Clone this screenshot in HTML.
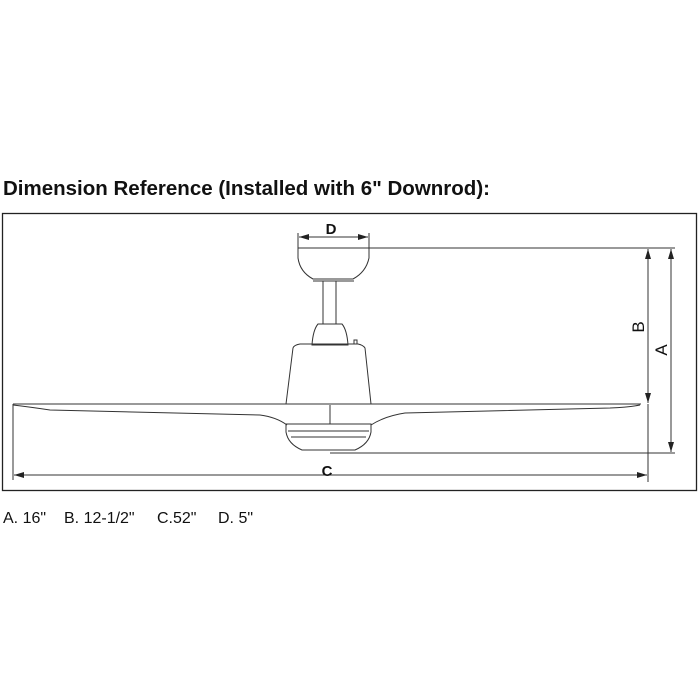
<!DOCTYPE html>
<html><head><style>
html,body{margin:0;padding:0;background:#fff;}
svg{display:block}
</style></head><body>
<svg width="700" height="700" viewBox="0 0 700 700" xmlns="http://www.w3.org/2000/svg" font-family="Liberation Sans, Arial, sans-serif">
<defs>
<marker id="ar" markerWidth="10" markerHeight="6" refX="10" refY="3" orient="auto-start-reverse" markerUnits="userSpaceOnUse">
<path d="M0,0 L10,3 L0,6 Z" fill="#222"/>
</marker>
</defs>
<text x="3" y="195" font-size="20.5" font-weight="bold" fill="#111">Dimension Reference (Installed with 6" Downrod):</text>
<rect x="2.5" y="213.5" width="694" height="277" fill="none" stroke="#222" stroke-width="1.3"/>
<g stroke="#333" stroke-width="1" fill="none">
<line x1="298" y1="233" x2="298" y2="250"/>
<line x1="369" y1="233" x2="369" y2="250"/>
<line x1="299" y1="237" x2="368" y2="237" marker-end="url(#ar)" marker-start="url(#ar)"/>
<line x1="298" y1="248" x2="675" y2="248"/>
<path d="M298,248 L298,258 Q300,272 313,279 L353,279 Q366,272 369,258 L369,248"/>
<line x1="313" y1="281" x2="354" y2="281"/>
<line x1="323" y1="281" x2="323" y2="324"/>
<line x1="336" y1="281" x2="336" y2="324"/>
<path d="M318,324 L342,324 Q347,330 348,345 L312,345 Q313,330 318,324 Z"/>
<path d="M293,348 Q294,345 300,344 L358,344 Q363,345 365,348 L371,404 L286,404 Z"/>
<path d="M354,344 L354,340 L357,340 L357,344"/>
<path d="M13,404 L641,404"/>
<path d="M13,405 Q30,407 50,410 L260,415 Q276,417 287,425"/>
<path d="M640,405 Q630,407 610,408 L405,413 Q385,416 371,425"/>
<line x1="330" y1="405" x2="330" y2="424"/>
<path d="M286,424 L371,424 L371,432 Q369,444 355,450 L302,450 Q288,444 286,432 Z"/>
<line x1="288" y1="431" x2="369" y2="431"/>
<line x1="291" y1="437" x2="366" y2="437"/>
<line x1="330" y1="453" x2="675" y2="453"/>
<line x1="13" y1="404" x2="13" y2="480"/>
<line x1="648" y1="404" x2="648" y2="482"/>
<line x1="14" y1="475" x2="647" y2="475" marker-end="url(#ar)" marker-start="url(#ar)"/>
<line x1="648" y1="249" x2="648" y2="403" marker-end="url(#ar)" marker-start="url(#ar)"/>
<line x1="671" y1="249" x2="671" y2="452" marker-end="url(#ar)" marker-start="url(#ar)"/>
</g>
<text x="331" y="234" font-size="15" font-weight="bold" text-anchor="middle" fill="#111">D</text>
<text x="327" y="476" font-size="15" font-weight="bold" text-anchor="middle" fill="#111">C</text>
<text transform="translate(644,327) rotate(-90)" font-size="17" text-anchor="middle" fill="#111">B</text>
<text transform="translate(667,350) rotate(-90)" font-size="17" text-anchor="middle" fill="#111">A</text>
<g font-size="16" fill="#111">
<text x="3" y="523">A. 16"</text>
<text x="64" y="523">B. 12-1/2"</text>
<text x="157" y="523">C.52"</text>
<text x="218" y="523">D. 5"</text>
</g>
</svg>
</body></html>
